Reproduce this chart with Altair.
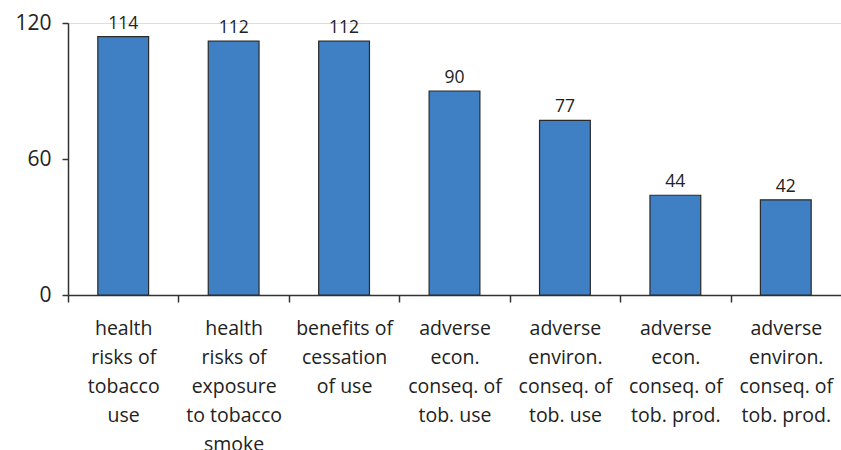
import altair as alt
import pandas as pd

# Topics and counts
topics = [
    "health|risks of|tobacco|use",
    "health|risks of|exposure|to tobacco|smoke",
    "benefits of|cessation|of use",
    "adverse|econ.|conseq. of|tob. use",
    "adverse|environ.|conseq. of|tob. use",
    "adverse|econ.|conseq. of|tob. prod.",
    "adverse|environ.|conseq. of|tob. prod.",
]
counts = [114, 112, 112, 90, 77, 44, 42]

df = pd.DataFrame({"topic": topics, "count": counts})

FONT = "Open Sans"
INK = "#333333"
TEXT = "#222222"

PLOT_W = 773
STEP = PLOT_W / len(topics)

x = alt.X(
    "topic:N",
    sort=topics,
    scale=alt.Scale(paddingInner=0.54, paddingOuter=0.27),
    axis=alt.Axis(
        title=None,
        labelAngle=0,
        labelExpr="split(datum.label, '|')",
        labelFont=FONT,
        labelFontSize=19.5,
        labelLineHeight=29,
        labelColor=TEXT,
        labelPadding=17,
        labelBaseline="top",
        # ticks sit on the category boundaries, labels stay centred
        tickOffset=-STEP / 2,
        labelOffset=STEP / 2,
        tickSize=7,
        tickColor=INK,
        domainColor=INK,
        domainWidth=1.5,
        tickWidth=1.5,
        labelLimit=200,
        grid=False,
    ),
)

y = alt.Y(
    "count:Q",
    scale=alt.Scale(domain=[0, 120]),
    axis=alt.Axis(
        title=None,
        values=[0, 60, 120],
        grid=False,
        labelFont=FONT,
        labelFontSize=21,
        labelColor=TEXT,
        labelPadding=11,
        tickSize=6,
        tickColor=INK,
        domainColor=INK,
        domainWidth=1.5,
        tickWidth=1.5,
    ),
)

bars = alt.Chart(df).mark_bar(
    color="#3F7FC4", stroke="#2a2a2a", strokeWidth=1.2
).encode(x=x, y=y)

labels = alt.Chart(df).mark_text(
    baseline="bottom", dy=-4, font=FONT, fontSize=17.5, color=TEXT
).encode(
    x=alt.X("topic:N", sort=topics),
    y=alt.Y("count:Q"),
    text="count:Q",
)

chart = (
    alt.layer(bars, labels)
    .properties(
        width=PLOT_W,
        height=272,
        autosize=alt.AutoSizeParams(type="none"),
        padding={"left": 68, "top": 23, "right": 0, "bottom": 155},
    )
    .configure_view(stroke="transparent", strokeWidth=0)
    .configure_axis(grid=False)
    .configure(background="white")
)

chart.save("out.html", embed_options={"renderer": "svg", "actions": False})
